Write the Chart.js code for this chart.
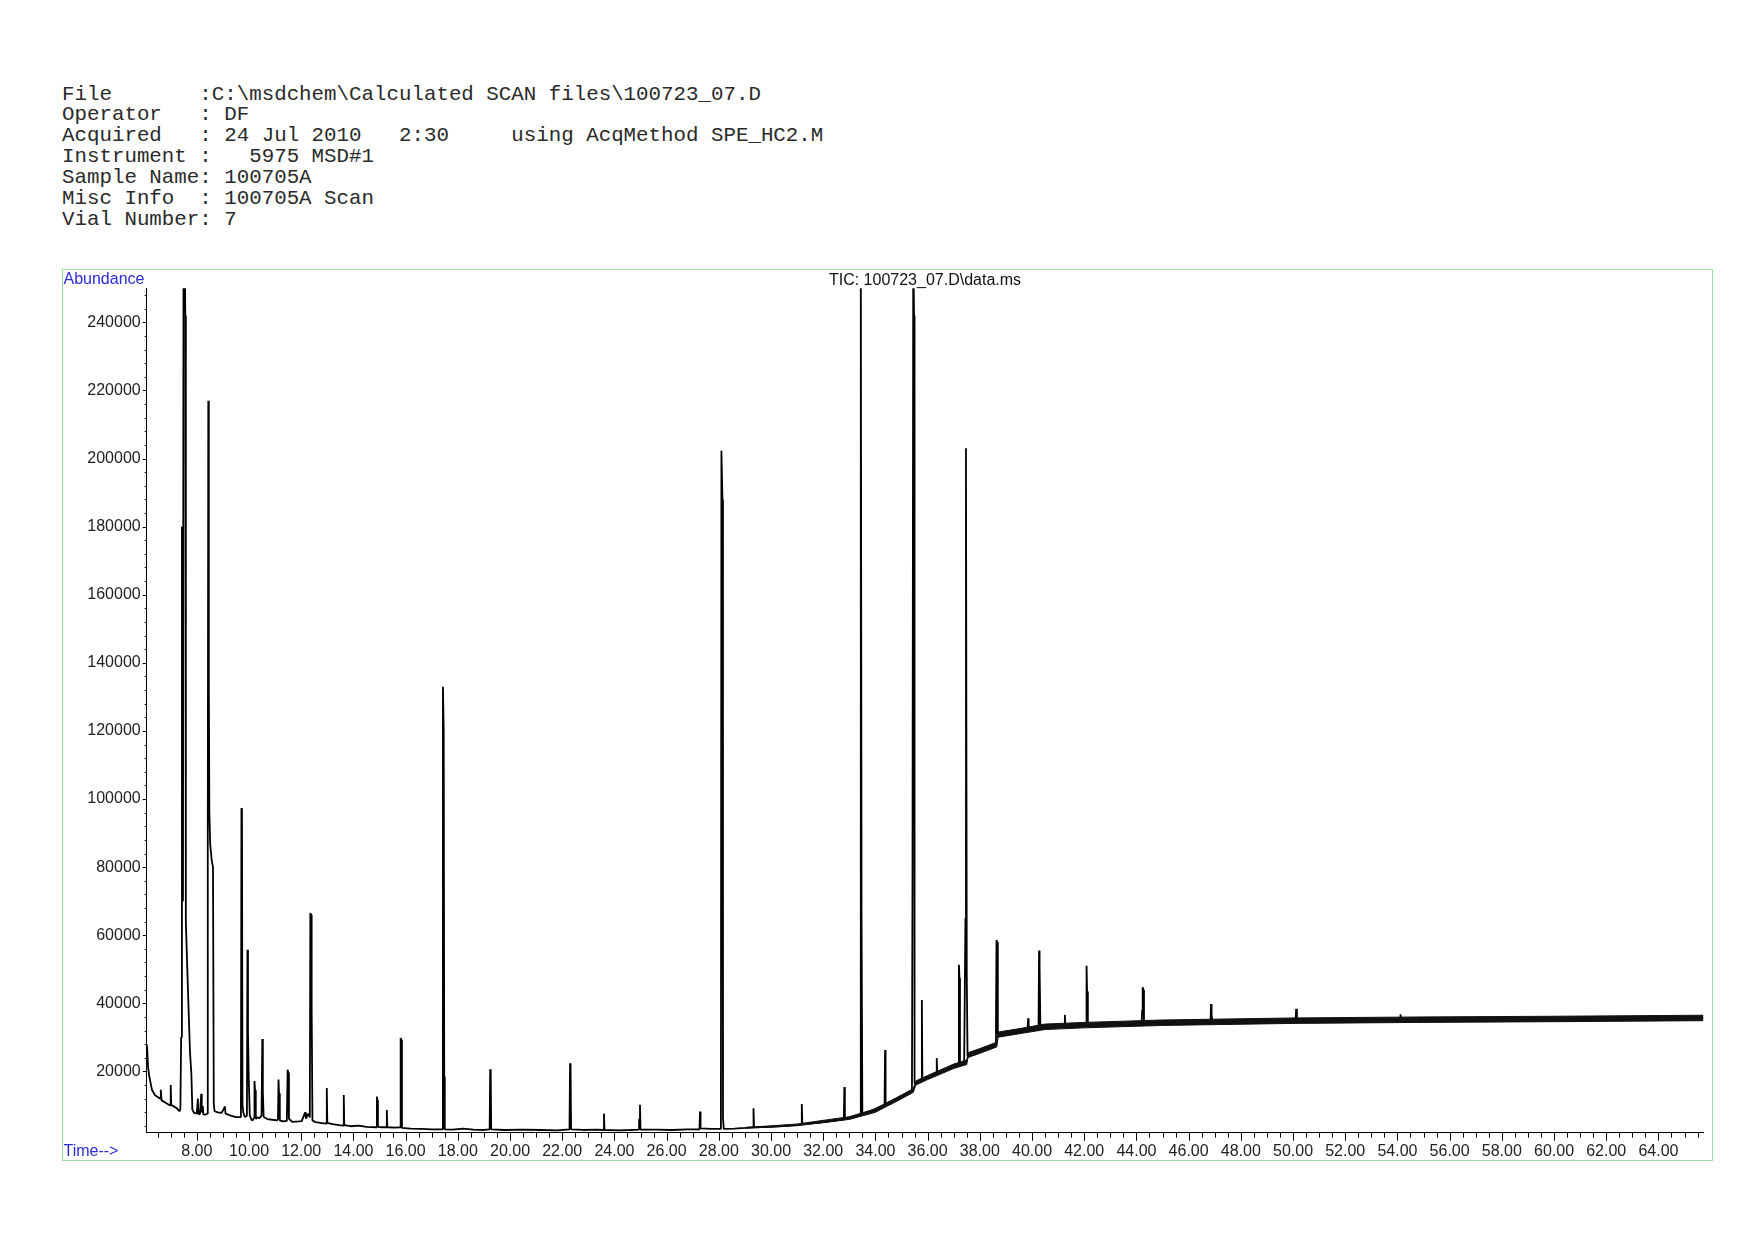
<!DOCTYPE html>
<html>
<head>
<meta charset="utf-8">
<title>TIC: 100723_07.D\data.ms</title>
<script src="https://cdn.jsdelivr.net/npm/chart.js@4.4.1/dist/chart.umd.min.js"></script>
<style>
  body { margin: 0; background: #fff; width: 1754px; height: 1240px; position: relative; overflow: hidden; }
  #header { position: absolute; left: 62px; top: 84.5px; margin: 0;
            font-family: "Liberation Mono", "DejaVu Sans Mono", monospace;
            font-size: 20.8px; line-height: 20.9px; color: #2a2a2a; }
  #chartBox { position: absolute; left: 62px; top: 269px; width: 1651px; height: 892px; }
</style>
</head>
<body>
<pre id="header">File       :C:\msdchem\Calculated SCAN files\100723_07.D
Operator   : DF
Acquired   : 24 Jul 2010   2:30     using AcqMethod SPE_HC2.M
Instrument :   5975 MSD#1
Sample Name: 100705A
Misc Info  : 100705A Scan
Vial Number: 7</pre>
<div id="chartBox"><canvas id="tic" width="1651" height="892"></canvas></div>

<script>
const chartTitle = 'TIC: 100723_07.D\\data.ms';

// TIC trace, retention time (min) vs abundance
const traceTime = [
  6.08, 6.10, 6.13, 6.18, 6.28, 6.40, 6.50, 6.60, 6.62, 6.65, 6.72, 6.85, 6.98, 7.00, 7.02, 7.10, 7.23, 7.33,
  7.37, 7.40, 7.43, 7.45, 7.47, 7.49, 7.53, 7.56, 7.58, 7.64, 7.69, 7.74, 7.79, 7.83, 7.90, 8.00, 8.04, 8.06,
  8.12, 8.17, 8.19, 8.23, 8.25, 8.35, 8.40, 8.42, 8.44, 8.46, 8.48, 8.51, 8.57, 8.62, 8.65, 8.68, 8.80, 8.95,
  9.08, 9.10, 9.30, 9.50, 9.66, 9.69, 9.71, 9.73, 9.75, 9.78, 9.84, 9.92, 9.94, 9.96, 9.99, 10.03, 10.10, 10.14,
  10.20, 10.21, 10.23, 10.26, 10.30, 10.40, 10.48, 10.51, 10.53, 10.56, 10.70, 10.90, 11.07, 11.11, 11.13, 11.15,
  11.18, 11.30, 11.45, 11.48, 11.50, 11.53, 11.66, 11.90, 12.02, 12.15, 12.18, 12.27, 12.33, 12.35, 12.38, 12.40,
  12.43, 12.55, 12.80, 12.96, 12.98, 13.00, 13.20, 13.45, 13.61, 13.63, 13.65, 13.90, 14.20, 14.50, 14.88, 14.90,
  14.92, 14.94, 15.10, 15.27, 15.28, 15.30, 15.60, 15.79, 15.81, 15.83, 15.86, 16.20, 16.60, 17.00, 17.40, 17.43,
  17.46, 17.48, 17.50, 17.80, 18.20, 18.60, 19.00, 19.22, 19.24, 19.26, 19.28, 19.80, 20.50, 21.20, 21.80, 22.28,
  22.30, 22.32, 22.34, 22.80, 23.30, 23.58, 23.60, 23.62, 24.20, 24.60, 24.94, 24.95, 24.98, 25.00, 25.60, 26.20, 26.80,
  27.26, 27.28, 27.30, 27.70, 28.08, 28.10, 28.14, 28.16, 28.19, 28.60, 29.00, 29.31, 29.33, 29.35, 30.00, 30.60,
  31.16, 31.18, 31.20, 31.80, 32.40, 32.79, 32.81, 32.83, 33.10, 33.41, 33.44, 33.47, 33.50, 33.80, 34.35, 34.37,
  34.39, 34.80, 35.20, 35.40, 35.42, 35.45, 35.48, 35.50, 35.60, 35.76, 35.78, 35.80, 36.10, 36.33, 36.35, 36.37,
  36.80, 37.18, 37.20, 37.22, 37.24, 37.40, 37.45, 37.47, 37.50, 37.53, 37.80, 38.20, 38.60, 38.62, 38.64, 38.66,
  38.69, 39.00, 39.50, 39.83, 39.85, 39.87, 40.25, 40.27, 40.29, 40.32, 40.80, 41.24, 41.26, 41.28, 41.70, 42.07,
  42.09, 42.11, 42.14, 43.00, 43.80, 44.20, 44.22, 44.24, 44.26, 44.29, 45.40, 46.20, 46.84, 46.86, 46.88, 46.92,
  48.00, 49.00, 50.10, 50.12, 50.15, 52.00, 54.10, 54.12, 54.14, 56.00, 58.00, 60.00, 62.00, 64.00, 65.75
];
const traceAbund = [
  28000, 26500, 21500, 18500, 14600, 13000, 12500, 12000, 14600, 11500, 11200, 10600, 10000, 16000, 10200, 9800, 9200, 8300,
  8800, 30000, 180000, 176000, 70000, 265000, 265000, 242000, 64000, 49000, 37000, 25500, 19500, 8700, 7800, 7600, 12000, 7500,
  7400, 13400, 8000, 9800, 7400, 7300, 7600, 90000, 217000, 135000, 97000, 87000, 82000, 80000, 10500, 8300, 8000, 7800,
  9700, 7600, 7000, 6600, 6600, 7500, 97300, 97000, 10200, 8000, 6600, 7000, 55700, 31700, 18000, 7000, 5800, 5600,
  6500, 17200, 14500, 6000, 6500, 6300, 7000, 29500, 14000, 6600, 6000, 5800, 5600, 6000, 17600, 13600,
  5600, 5300, 5500, 20500, 19700, 6100, 5200, 5300, 5400, 8000, 6100, 7600, 6500, 66500, 66000, 39000,
  5600, 5100, 4800, 4700, 15100, 4900, 4500, 4200, 4100, 13100, 4200, 3900, 4100, 3700, 3600, 12600,
  11500, 3700, 3600, 3600, 8700, 3600, 3500, 3600, 29800, 29300, 3400, 3200, 3100, 3000, 3000, 133000,
  120000, 18500, 3000, 2900, 3200, 2900, 2800, 3000, 20600, 19800, 3000, 2800, 2900, 2800, 2700, 3000,
  22400, 21000, 3000, 2800, 2900, 2800, 7600, 2800, 2700, 2800, 2900, 6000, 10200, 2900, 2900, 2800, 3000,
  3000, 8200, 3300, 3100, 3100, 202300, 188000, 6300, 3100, 3200, 3400, 3600, 9200, 3600, 3700, 4000,
  4400, 10400, 4500, 4900, 5500, 5900, 15400, 6000, 6500, 7000, 262000, 63000, 7500, 8300, 10300, 26300,
  10500, 12000, 13600, 14300, 75000, 262000, 242000, 16500, 16800, 17200, 41000, 17500, 18500, 19500, 23900, 19700,
  21000, 21800, 51300, 47400, 22000, 22500, 65000, 203000, 47900, 24500, 25000, 26500, 27800, 34000, 58600, 58000,
  31000, 31000, 31800, 32200, 35600, 32300, 32800, 55500, 50800, 33000, 33200, 33400, 36600, 33400, 33500, 33600,
  51000, 43500, 33600, 33700, 34000, 34000, 38000, 44700, 44000, 34000, 34300, 34400, 34500, 39800, 36500, 34500,
  34600, 34800, 34900, 38400, 34900, 35000, 35100, 36800, 35100, 35300, 35200, 35400, 35500, 35600, 35700
];

// the dense detector noise band that rides on the rising baseline
const bandTime = [29, 31, 33, 34, 35, 35.45, 35.55, 36, 37, 37.5, 37.55, 38, 38.65, 38.7, 39.5, 40.5, 42, 45, 50, 55, 60, 65.75];
const bandLow  = [3300, 4050, 5900, 8000, 11950, 13850, 16000, 17600, 20850, 22050, 24100, 25300, 27200, 30050, 31050, 32300, 32800, 33500, 34100, 34400, 34600, 34900];
const bandHigh = [3500, 4550, 6700, 9000, 13050, 14950, 17200, 18800, 22150, 23350, 25500, 26700, 28600, 31550, 32550, 33900, 34400, 35100, 35700, 36000, 36200, 36500];

// axis ticks
const timeTicks = [8, 10, 12, 14, 16, 18, 20, 22, 24, 26, 28, 30, 32, 34, 36, 38, 40, 42, 44, 46, 48, 50, 52, 54, 56, 58, 60, 62, 64];
const abundTicks = [20000, 40000, 60000, 80000, 100000, 120000, 140000, 160000, 180000, 200000, 220000, 240000];

const labelFont = { family: '"Liberation Sans", Arial, sans-serif', size: 16 };

//===================== ticks, frame and labels =====================
const chemstationDecor = {
  id: 'chemstationDecor',
  afterDraw(chart) {
    const ctx = chart.ctx;
    const area = chart.chartArea;
    const xs = chart.scales.x, ys = chart.scales.y;
    ctx.save();

    ctx.strokeStyle = '#9de39d';
    ctx.lineWidth = 1;
    ctx.strokeRect(0.5, 0.5, chart.width - 1, chart.height - 1);

    ctx.strokeStyle = '#000';
    ctx.beginPath();
    for (let t = 6.5; t <= xs.max; t += 0.5) {
      const px = Math.round(xs.getPixelForValue(t)) + 0.5;
      const len = (t % 2 === 0) ? 8 : 5;
      ctx.moveTo(px, area.bottom);
      ctx.lineTo(px, area.bottom + len);
    }
    for (let v = 4000; v <= ys.max; v += 4000) {
      const py = Math.round(ys.getPixelForValue(v)) + 0.5;
      const len = (v % 20000 === 0) ? 4 : 2;
      ctx.moveTo(area.left - len, py);
      ctx.lineTo(area.left, py);
    }
    ctx.stroke();

    ctx.font = '16px "Liberation Sans", Arial, sans-serif';
    ctx.fillStyle = '#2b2bd8';
    ctx.textAlign = 'left';
    ctx.textBaseline = 'alphabetic';
    ctx.fillText('Abundance', 1.5, 14.5);
    ctx.textBaseline = 'middle';
    ctx.fillText('Time-->', 1.5, area.bottom + 19);

    ctx.fillStyle = '#111';
    ctx.textAlign = 'center';
    ctx.fillText(chartTitle, (area.left + area.right) / 2, 12);
    ctx.restore();
  }
};

const ctx = document.getElementById('tic');
new Chart(ctx, {
  type: 'line',
  data: {
    datasets: [
      {
        data: bandTime.map((t, i) => ({ x: t, y: bandLow[i] })),
        borderColor: '#111', borderWidth: 1, pointRadius: 0, fill: false
      },
      {
        data: bandTime.map((t, i) => ({ x: t, y: bandHigh[i] })),
        borderColor: '#111', borderWidth: 1, pointRadius: 0,
        backgroundColor: '#111', fill: '-1'
      },
      {
        data: traceTime.map((t, i) => ({ x: t, y: traceAbund[i] })),
        borderColor: '#000', borderWidth: 1.8, borderJoinStyle: 'bevel',
        pointRadius: 0, tension: 0, fill: false
      }
    ]
  },
  options: {
    responsive: false,
    animation: false,
    devicePixelRatio: 1,
    layout: { padding: { left: 0, right: 9.7, top: 19.3, bottom: 0 } },
    plugins: { legend: { display: false }, tooltip: { enabled: false }, title: { display: false } },
    scales: {
      x: {
        type: 'linear', min: 6.08, max: 65.72,
        grid: { display: false, drawTicks: false },
        border: { display: true, color: '#000', width: 1 },
        afterBuildTicks: scale => { scale.ticks = timeTicks.map(v => ({ value: v })); },
        afterFit: scale => { scale.height = 28.3; },
        ticks: {
          autoSkip: false, maxRotation: 0, padding: 9.4, color: '#222', font: labelFont,
          callback: v => Number(v).toFixed(2)
        }
      },
      y: {
        type: 'linear', min: 2000, max: 250000,
        grid: { display: false, drawTicks: false },
        border: { display: true, color: '#000', width: 1 },
        afterBuildTicks: scale => { scale.ticks = abundTicks.map(v => ({ value: v })); },
        afterFit: scale => { scale.width = 84.7; },
        ticks: { padding: 6, color: '#222', font: labelFont, callback: v => String(v) }
      }
    }
  },
  plugins: [chemstationDecor]
});
</script>
</body>
</html>
